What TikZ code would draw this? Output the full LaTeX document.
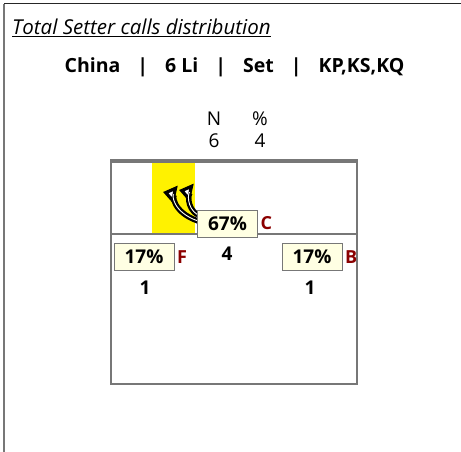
\documentclass[tikz,border=0pt]{standalone}
\usepackage{fontspec}
\setmainfont{Open Sans}
\usetikzlibrary{arrows.meta}
\definecolor{boxfill}{HTML}{FFFFE3}
\definecolor{lblred}{HTML}{8B0000}
\definecolor{frame}{HTML}{777777}
\newcommand{\barsep}{\hspace{17pt}|\hspace{17pt}}
\begin{document}
\begin{tikzpicture}[x=1pt,y=-1pt,
  pct/.style={draw=frame, line width=0.9pt, fill=boxfill, minimum width=60pt, minimum height=27pt, inner sep=0pt, font=\fontsize{19}{21}\selectfont\bfseries},
  lbl/.style={text=lblred, font=\fontsize{18}{20}\selectfont\bfseries, inner sep=2.5pt},
  cnt/.style={font=\fontsize{19}{21}\selectfont\bfseries, inner sep=0pt},
  hdr/.style={font=\fontsize{19}{21}\selectfont, inner sep=0pt},
  curveblack/.style={line width=5.5pt, black, -{Triangle[length=13pt,width=18pt,fill=white,line width=3.2pt]}},
  curvewhite/.style={line width=0.9pt, white, shorten >=11pt}
]
\useasboundingbox (0,0) rectangle (461,452);
% page frame
\draw[frame, line width=1.2pt] (4,452) -- (4,4);
\draw[black!85, line width=1pt] (4,4) -- (461,4);
% titles
\node[anchor=west, inner sep=0pt, font=\fontsize{20.5}{23}\selectfont\itshape] (title) at (12,28) {\underline{Total Setter calls distribution}};
\node[inner sep=0pt, font=\fontsize{19.5}{22}\selectfont\bfseries] (sub) at (234.5,67) {China\barsep 6 Li\barsep Set\barsep KP,KS,KQ};
\node[hdr] (hn) at (214,119) {N};
\node[hdr] (hp) at (260,119) {\%};
\node[hdr] (vn) at (214,141) {6};
\node[hdr] (vp) at (260,141) {4};
% field
\fill[yellow] (152,162) rectangle (195,234);
\draw[frame, line width=1.3pt] (111,160) rectangle (357,384);
\draw[frame, line width=3pt] (111,161) -- (357,161);
\draw[frame, line width=1.3pt] (111,234) -- (357,234);
% arrows
\coordinate (t1) at (163,192);
\coordinate (t2) at (179,190);
\coordinate (s1) at (198,221);
\coordinate (s2) at (198,215);
\draw[curveblack] (s1) .. controls (172,212) and (172,194) .. (t1);
\draw[curvewhite] (s1) .. controls (172,212) and (172,194) .. (t1);
\draw[curveblack] (s2) .. controls (186,208) and (188,192) .. (t2);
\draw[curvewhite] (s2) .. controls (186,208) and (188,192) .. (t2);
% labels
\node[pct] (c) at (227.5,223.5) {67\%};
\node[lbl, anchor=west] (cl) at (c.east) {C};
\node[cnt] (cn) at (227,254) {4};
\node[pct] (f) at (144,257) {17\%};
\node[lbl, anchor=west] (fl) at (f.east) {F};
\node[cnt] (fn) at (145,288) {1};
\node[pct] (b) at (312,257) {17\%};
\node[lbl, anchor=west] (bl) at (b.east) {B};
\node[cnt] (bn) at (310,288) {1};
\end{tikzpicture}
\end{document}
